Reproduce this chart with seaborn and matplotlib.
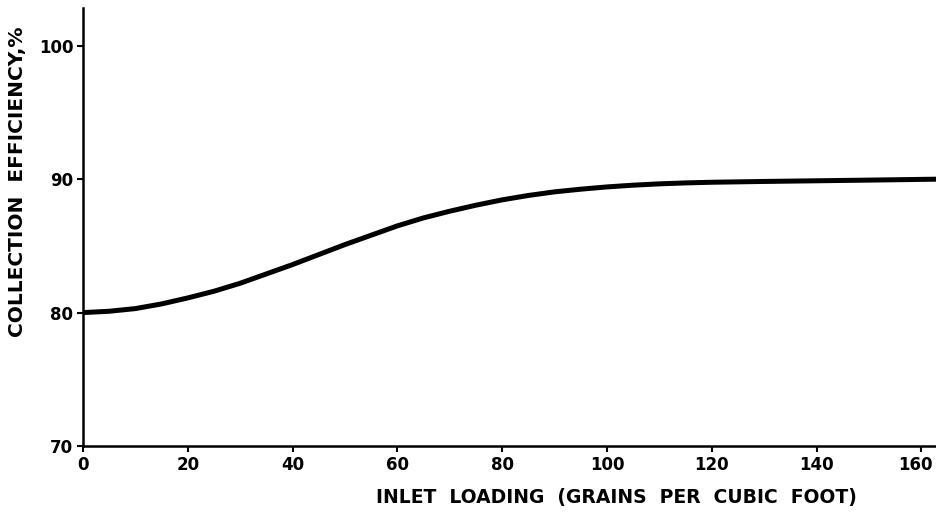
import numpy as np
import pandas as pd
import matplotlib
matplotlib.use("Agg")
import matplotlib.pyplot as plt
import matplotlib.transforms as mtransforms
import seaborn as sns

# values (every 5 grains where legible)
inlet_loading = [0, 5, 10, 15, 20, 25, 30, 35, 40, 45, 50, 55, 60, 65, 70, 75, 80,
                 85, 90, 95, 100, 105, 110, 115, 120, 130, 140, 150, 163]
efficiency = [80.0, 80.1, 80.3, 80.65, 81.1, 81.6, 82.2, 82.9, 83.6, 84.35, 85.1,
              85.8, 86.5, 87.1, 87.6, 88.05, 88.45, 88.78, 89.05, 89.25, 89.42,
              89.55, 89.65, 89.72, 89.77, 89.83, 89.88, 89.93, 90.0]
x_ticks = [0, 20, 40, 60, 80, 100, 120, 140, 160]
y_ticks = [70, 80, 90, 100]

df = pd.DataFrame({'loading': inlet_loading, 'eff': efficiency})

sns.set_style("ticks")
plt.rcParams['font.family'] = ['DejaVu Sans']

fig = plt.figure(figsize=(9.36, 5.13), dpi=100)
ax = fig.add_axes([0.0887, 0.1306, 0.9113, 0.853])

sns.lineplot(data=df, x='loading', y='eff', color='black', linewidth=3.6, ax=ax)
ax.lines[0].set_solid_joinstyle('round')

ax.set_xlim(0, 162.8)
ax.set_ylim(70, 102.8)
ax.set_xticks(x_ticks)
ax.set_yticks(y_ticks)
ax.set_xticklabels([str(t) for t in x_ticks], fontsize=12, fontweight='bold', color='black')
ax.set_yticklabels([str(t) for t in y_ticks], fontsize=12, fontweight='bold', color='black')
ax.tick_params(axis='both', direction='out', length=4, width=1.5, color='black', pad=3)

# nudge "160" left a bit so it stays inside the picture
last = ax.get_xticklabels()[-1]
last.set_transform(last.get_transform() + mtransforms.ScaledTranslation(-4 / 72, 0, fig.dpi_scale_trans))

sns.despine(ax=ax)
for side in ['left', 'bottom']:
    ax.spines[side].set_linewidth(1.8)
    ax.spines[side].set_color('black')

ax.set_xlabel('INLET  LOADING  (GRAINS  PER  CUBIC  FOOT)', fontsize=13.5,
              fontweight='bold', color='black')
ax.set_ylabel('COLLECTION  EFFICIENCY,%', fontsize=14.5,
              fontweight='bold', color='black')
ax.xaxis.set_label_coords(0.625, -0.095)
ax.yaxis.set_label_coords(-0.066, 0.605)

fig.savefig('out.png', dpi=100, facecolor='white')
